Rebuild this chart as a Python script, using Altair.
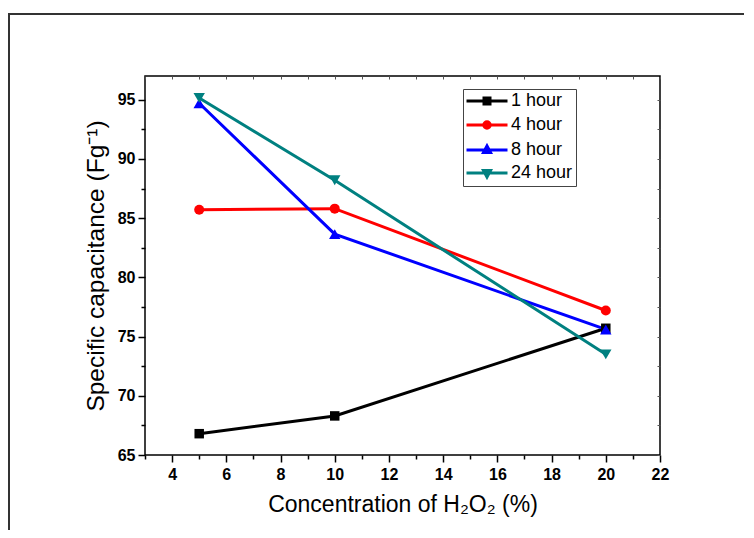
import altair as alt
import pandas as pd

# ---- data ----
concentration = [5, 10, 20]
series_names = ["1 hour", "4 hour", "8 hour", "24 hour"]
cap_1h = [66.8, 68.3, 75.7]
cap_4h = [85.7, 85.8, 77.2]
cap_8h = [94.7, 83.65, 75.6]
cap_24h = [95.15, 88.2, 73.5]

colors = ["#000000", "#FF0000", "#0000FF", "#008080"]
marker_shapes = ["square", "circle", "triangle-up", "triangle-down"]
marker_sizes = [90, 100, 130, 130]
# legend symbols: a line with a (stroke-filled) marker in its middle, units of r = sqrt(size)/2
legend_paths = [
    "M-1.7,0H6.5M1.8,-0.6H3.0V0.6H1.8ZM2.15,-0.25H2.65V0.25H2.15Z",
    "M-1.7,0H6.5M1.75,0A0.65,0.65 0 1,0 3.05,0A0.65,0.65 0 1,0 1.75,0ZM2.1,0A0.3,0.3 0 1,0 2.7,0A0.3,0.3 0 1,0 2.1,0Z",
    "M-1.7,0H6.5M2.4,-0.8L3.1,0.5L1.7,0.5ZM2.4,-0.3L2.7,0.2L2.1,0.2Z",
    "M-1.7,0H6.5M2.4,0.8L3.1,-0.5L1.7,-0.5ZM2.4,0.3L2.7,-0.2L2.1,-0.2Z",
]

x_ticks = [3, 4, 5, 6, 7, 8, 9, 10, 11, 12, 13, 14, 15, 16, 17, 18, 19, 20, 21, 22]
y_ticks = [65, 67.5, 70, 72.5, 75, 77.5, 80, 82.5, 85, 87.5, 90, 92.5, 95]

rows = []
for name, vals in zip(series_names, [cap_1h, cap_4h, cap_8h, cap_24h]):
    for c, v in zip(concentration, vals):
        rows.append({"conc": c, "cap": v, "series": name})
df = pd.DataFrame(rows)

FONT = "Liberation Sans"

xscale = alt.Scale(domain=[3, 22], nice=False, zero=False)
yscale = alt.Scale(domain=[65, 97], nice=False, zero=False)

# same mapping, listed in reverse so that it stays apart from the legend's scale
plot_color_scale = alt.Scale(domain=series_names[::-1], range=colors[::-1])
legend_color_scale = alt.Scale(domain=series_names, range=colors)

x_major = "datum.value % 2 === 0"
y_major = "datum.value % 5 === 0"

x_axis = alt.Axis(
    values=x_ticks,
    labelExpr=f"{x_major} ? datum.label : ''",
    tickSize={"condition": {"test": x_major, "value": 7}, "value": 4},
    tickColor="black", tickWidth=1.5, domain=False, grid=False,
    labelOverlap=False, labelFlush=False,
    labelFont=FONT, labelFontSize=16, labelFontWeight="bold", labelColor="black",
    labelPadding=4,
    title="Concentration of H₂O₂ (%)",
    titleFont=FONT, titleFontSize=23, titleFontWeight="normal", titleColor="black",
    titlePadding=11,
)
y_axis = alt.Axis(
    values=y_ticks,
    labelExpr=f"{y_major} ? datum.label : ''",
    tickSize={"condition": {"test": y_major, "value": 7}, "value": 4},
    tickColor="black", tickWidth=1.5, domain=False, grid=False,
    labelOverlap=False, labelFlush=False,
    labelFont=FONT, labelFontSize=16, labelFontWeight="bold", labelColor="black",
    labelPadding=3,
    title="Specific capacitance (Fg⁻¹)",
    titleFont=FONT, titleFontSize=24.5, titleFontWeight="normal", titleColor="black",
    titlePadding=9,
)

base = alt.Chart(df)

lines = base.mark_line(strokeWidth=3).encode(
    x=alt.X("conc:Q", scale=xscale, axis=x_axis),
    y=alt.Y("cap:Q", scale=yscale, axis=y_axis),
    stroke=alt.Stroke("series:N", scale=plot_color_scale, legend=None),
)

point_layers = []
for name, shp, sz in zip(series_names, marker_shapes, marker_sizes):
    point_layers.append(
        base.transform_filter(alt.datum.series == name)
        .mark_point(filled=True, shape=shp, size=sz, opacity=1)
        .encode(
            x=alt.X("conc:Q", scale=xscale, axis=None),
            y=alt.Y("cap:Q", scale=yscale, axis=None),
            fill=alt.Fill("series:N", scale=plot_color_scale, legend=None),
        )
    )

leg = dict(
    orient="none", legendX=318, legendY=13, title=None,
    symbolSize=100, symbolStrokeWidth=3, symbolOpacity=1,
    labelFont=FONT, labelFontSize=18, labelColor="black", labelOffset=27,
    labelLimit=300, padding=3, rowPadding=5,
    strokeColor="#444", fillColor="white",
)

legend_layer = base.transform_filter("false").mark_point(filled=False, strokeWidth=3, opacity=1).encode(
    color=alt.Color("series:N", scale=legend_color_scale, legend=alt.Legend(**leg)),
    shape=alt.Shape("series:N", scale=alt.Scale(domain=series_names, range=legend_paths),
                    legend=alt.Legend(**leg)),
)

mirror = base.mark_point(opacity=0).encode(
    x=alt.X("conc:Q", scale=xscale, axis=alt.Axis(
        orient="top", values=x_ticks, labels=False, title=None, domain=False, grid=False,
        tickSize=3, offset=-3, tickColor="#555", tickWidth=1)),
    y=alt.Y("cap:Q", scale=yscale, axis=alt.Axis(
        orient="right", values=y_ticks, labels=False, title=None, domain=False, grid=False,
        tickSize=3, offset=-3, tickColor="#555", tickWidth=1)),
)

one = pd.DataFrame({"k": [0]})
outer_frame = alt.Chart(one).mark_rect(filled=False, stroke="#333", strokeWidth=2).encode(
    x=alt.value(-136), x2=alt.value(640), y=alt.value(-62), y2=alt.value(480))

chart = alt.layer(lines, *point_layers, legend_layer, mirror, outer_frame).resolve_axis(
    x="independent", y="independent"
).properties(
    width=515, height=379,
    autosize=alt.AutoSizeParams(type="none"),
    padding={"left": 137, "top": 68, "right": 84, "bottom": 75},
    background="white",
).configure_view(
    stroke="black", strokeWidth=1.5
)

chart.save("out.html", embed_options={"renderer": "svg", "actions": False})
